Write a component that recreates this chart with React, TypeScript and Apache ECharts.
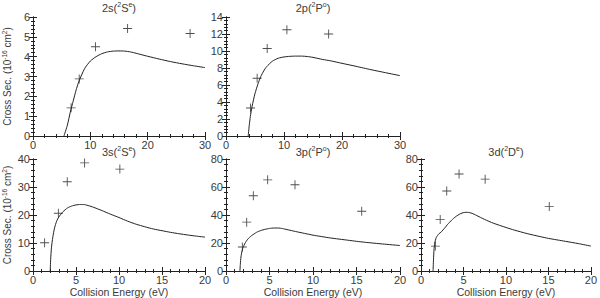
import React, { useEffect, useRef } from "react";
import * as echarts from "echarts";

// ---- data ----
const curve2sX = [5.4, 6.0, 6.5, 7.0, 7.5, 8.0, 9.0, 10.0, 11, 12, 13, 14, 15, 16, 17, 18, 20, 22, 24, 26, 28, 30];
const curve2sY = [0, 0.55, 1.2, 1.75, 2.3, 2.75, 3.4, 3.78, 4.0, 4.15, 4.24, 4.28, 4.29, 4.28, 4.24, 4.17, 4.02, 3.88, 3.75, 3.64, 3.54, 3.45];
const cross2sX = [6.65, 8.06, 10.9, 16.5, 27.4];
const cross2sY = [1.42, 2.88, 4.5, 5.42, 5.17];

const curve2pX = [3.83, 4.0, 4.2, 4.5, 5.0, 5.5, 6.0, 6.5, 7.0, 8, 9, 10, 11, 12, 13, 14, 15, 16.7, 18, 20, 22.4, 25, 27.5, 30];
const curve2pY = [0, 1.2, 2.3, 3.5, 5.0, 6.1, 7.0, 7.65, 8.15, 8.8, 9.15, 9.3, 9.37, 9.4, 9.4, 9.35, 9.25, 9.0, 8.85, 8.55, 8.2, 7.8, 7.45, 7.1];
const cross2pX = [4.23, 5.37, 7.1, 10.5, 17.7];
const cross2pY = [3.3, 6.8, 10.3, 12.5, 12.0];

const curve3sX = [2.0, 2.05, 2.15, 2.3, 2.5, 2.75, 3.0, 3.5, 4.0, 4.5, 5.0, 5.5, 6.0, 6.5, 7, 8, 9, 10, 11, 12, 13, 14, 15, 16, 17, 18, 19, 20];
const curve3sY = [0, 4, 8.5, 12, 15.3, 17.8, 19.3, 21.2, 22.5, 23.2, 23.6, 23.75, 23.7, 23.3, 22.8, 21.6, 20.3, 19.1, 17.8, 16.7, 15.8, 15.0, 14.4, 13.8, 13.3, 12.85, 12.45, 12.1];
const cross3sX = [1.35, 2.95, 3.98, 6.0, 10.1];
const cross3sY = [10.1, 20.6, 31.9, 38.6, 36.4];

const curve3pX = [1.6, 1.65, 1.72, 1.85, 2.0, 2.3, 2.6, 3.0, 3.5, 4, 4.5, 5, 5.5, 6, 6.5, 7, 8, 9, 10, 12, 14, 15, 16, 18, 20];
const curve3pY = [0, 5, 10, 14.5, 17.5, 21, 23.4, 25.5, 27.6, 28.9, 29.8, 30.4, 30.7, 30.7, 30.3, 29.6, 28.2, 26.9, 25.6, 23.6, 22.0, 21.2, 20.5, 19.3, 18.2];
const cross3pX = [1.88, 2.38, 3.14, 4.79, 7.93, 15.6];
const cross3pY = [17.1, 34.9, 53.8, 65.1, 61.6, 42.7];

const curve3dX = [1.42, 1.47, 1.53, 1.62, 1.8, 2.1, 2.4, 2.8, 3.14, 3.6, 4.1, 4.6, 5.06, 5.5, 6, 6.5, 7.5, 8.5, 10, 11, 12.5, 14, 15, 17, 18.5, 20];
const curve3dY = [0, 8, 15, 20, 24, 26.5, 28, 30.8, 33.3, 36.3, 38.9, 40.8, 41.8, 41.9, 41.2, 39.8, 36.8, 34.2, 31.1, 29.2, 26.7, 24.6, 23.3, 21.2, 19.6, 17.8];
const cross3dX = [1.69, 2.26, 3.03, 4.48, 7.55, 15.1];
const cross3dY = [17.8, 36.7, 57.1, 69.3, 65.6, 46.0];

// axis ranges / ticks
const xMaxTop = 30, xIntTop = 10;
const xMaxBottom = 20, xIntBottom = 5;
const yMax2s = 6, yInt2s = 1;
const yMax2p = 14, yInt2p = 2;
const yMax3s = 40, yInt3s = 10;
const yMax3p = 80, yInt3p = 20;
const yMax3d = 80, yInt3d = 20;

const INK = "#222";
const TXT = "#3a3a3a";
const FONT = "Liberation Sans, Arial, sans-serif";

const titleRich = {
  n: { fontSize: 11, fontFamily: FONT, color: TXT },
  s: { fontSize: 7, fontFamily: FONT, color: TXT, verticalAlign: "top", padding: [0, 0, 6, 0] },
};
const yNameRich = {
  n: { fontSize: 10, fontFamily: FONT, color: TXT },
  s: { fontSize: 6.5, fontFamily: FONT, color: TXT, verticalAlign: "top", padding: [0, 0, 5, 0] },
};

const pairs = (xs: number[], ys: number[]) => xs.map((x, i) => [x, ys[i]]);

const panels = [
  { left: 32, top: 15, width: 173, height: 121, xMax: xMaxTop, xInt: xIntTop, yMax: yMax2s, yInt: yInt2s,
    title: "{n|2s(}{s|2}{n|S}{s|e}{n|)}", curve: pairs(curve2sX, curve2sY), cross: pairs(cross2sX, cross2sY), yName: true, xName: false },
  { left: 226, top: 15, width: 174, height: 121, xMax: xMaxTop, xInt: xIntTop, yMax: yMax2p, yInt: yInt2p,
    title: "{n|2p(}{s|2}{n|P}{s|o}{n|)}", curve: pairs(curve2pX, curve2pY), cross: pairs(cross2pX, cross2pY), yName: false, xName: false },
  { left: 31, top: 159, width: 174, height: 121, xMax: xMaxBottom, xInt: xIntBottom, yMax: yMax3s, yInt: yInt3s,
    title: "{n|3s(}{s|2}{n|S}{s|e}{n|)}", curve: pairs(curve3sX, curve3sY), cross: pairs(cross3sX, cross3sY), yName: true, xName: true },
  { left: 226, top: 159, width: 174, height: 121, xMax: xMaxBottom, xInt: xIntBottom, yMax: yMax3p, yInt: yInt3p,
    title: "{n|3p(}{s|2}{n|P}{s|o}{n|)}", curve: pairs(curve3pX, curve3pY), cross: pairs(cross3pX, cross3pY), yName: false, xName: true },
  { left: 421, top: 159, width: 174, height: 121, xMax: xMaxBottom, xInt: xIntBottom, yMax: yMax3d, yInt: yInt3d,
    title: "{n|3d(}{s|2}{n|D}{s|e}{n|)}", curve: pairs(curve3dX, curve3dY), cross: pairs(cross3dX, cross3dY), yName: false, xName: true },
];

const CROSS = "path://M4.5,0h1v10h-1z M0,4.5h10v1h-10z";

export default function App() {
  const ref = useRef<HTMLDivElement>(null);
  useEffect(() => {
    if (!ref.current) return;
    const chart = echarts.init(ref.current, null, { renderer: "svg" });
    const grid: any[] = [];
    const xAxis: any[] = [];
    const yAxis: any[] = [];
    const series: any[] = [];
    const axLine = { show: true, lineStyle: { color: INK, width: 1 } };
    const tick = { show: true, inside: true, length: 4, lineStyle: { color: INK, width: 1 } };
    const minor = { show: true, splitNumber: 5, length: 2, lineStyle: { color: INK, width: 1 } };
    const lbl = { color: TXT, fontSize: 11, fontFamily: FONT, margin: 3, showMinLabel: true, showMaxLabel: true };
    panels.forEach((p, i) => {
      grid.push({ left: p.left, top: p.top, width: p.width, height: p.height, containLabel: false });
      const xBase = { type: "value", gridIndex: i, min: 0, max: p.xMax, interval: p.xInt, splitLine: { show: false }, axisLine: axLine, axisTick: tick, minorTick: minor };
      const yBase = { type: "value", gridIndex: i, min: 0, max: p.yMax, interval: p.yInt, splitLine: { show: false }, axisLine: axLine, axisTick: tick, minorTick: minor };
      xAxis.push({
        ...xBase, position: "bottom", axisLabel: lbl,
        ...(p.xName ? { name: "Collision Energy (eV)", nameLocation: "middle", nameGap: 15, nameTextStyle: { color: TXT, fontSize: 10.5, fontFamily: FONT } } : {}),
      });
      xAxis.push({
        ...xBase, position: "top", axisLabel: { show: false },
        name: p.title, nameLocation: "middle", nameGap: i < 2 ? 3 : 1, nameTextStyle: { rich: titleRich },
      });
      yAxis.push({
        ...yBase, position: "left", axisLabel: { ...lbl, margin: 3 },
        ...(p.yName ? { name: "{n|Cross Sec. (10}{s|-16}{n| cm}{s|2}{n|)}", nameLocation: "middle", nameRotate: 90, nameGap: 20, nameTextStyle: { rich: yNameRich } } : {}),
      });
      yAxis.push({ ...yBase, position: "right", axisLabel: { show: false } });
      series.push({
        type: "line", xAxisIndex: 2 * i, yAxisIndex: 2 * i, data: p.curve, showSymbol: false, symbol: "none",
        smooth: 0.2, lineStyle: { color: INK, width: 1 }, silent: true,
      });
      series.push({
        type: "scatter", xAxisIndex: 2 * i, yAxisIndex: 2 * i, data: p.cross, symbol: CROSS, symbolSize: 9,
        itemStyle: { color: INK }, silent: true,
      });
    });
    chart.setOption({ animation: false, backgroundColor: "#fff", grid, xAxis, yAxis, series });
    return () => chart.dispose();
  }, []);
  return <div ref={ref} style={{ position: "fixed", left: 0, top: 0, width: 600, height: 298 }} />;
}
